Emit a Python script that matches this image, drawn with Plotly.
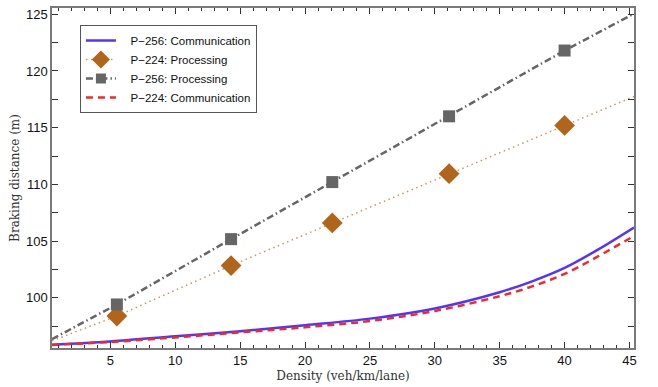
import plotly.graph_objects as go

# Data
density_curve = [0.5, 5, 10, 15, 20, 25, 30, 35, 37.5, 40, 42.5, 45.35]
p256_comm = [95.86, 96.15, 96.6, 97.05, 97.58, 98.16, 99.06, 100.49, 101.45, 102.63, 104.2, 106.2]
p224_comm = [95.84, 96.1, 96.5, 96.95, 97.4, 97.95, 98.83, 100.14, 101.0, 102.1, 103.6, 105.45]

proc_x = [0.5, 5.5, 14.3, 22.1, 31.1, 40.0, 45.35]
p256_proc_line = [96.35, 99.41, 105.17, 110.2, 116.0, 121.8, 125.05]
p224_proc_line = [96.2, 98.39, 102.84, 106.6, 110.94, 115.2, 117.75]

marker_x = [5.5, 14.3, 22.1, 31.1, 40.0]
p256_proc_marks = [99.41, 105.17, 110.2, 116.0, 121.8]
p224_proc_marks = [98.39, 102.84, 106.6, 110.94, 115.2]

x_ticks = [5, 10, 15, 20, 25, 30, 35, 40, 45]
y_ticks = [100, 105, 110, 115, 120, 125]

legend_names = ["P\u2212256: Communication", "P\u2212224: Processing",
                "P\u2212256: Processing", "P\u2212224: Communication"]

BLUE = "#5533ff"
RED = "#ee2a2a"
BROWN = "#b0651a"
BROWN_LINE = "#c49a6c"
GRAY = "#666666"

DASHDOT = "7px,3px,1.5px,3px"
DASH = "7px,5px"
DOT = "1.5px,3.5px"

PAD = "\u00a0" * 3

fig = go.Figure()

# drawn lines (no legend)
fig.add_trace(go.Scatter(x=proc_x, y=p224_proc_line, mode="lines", line=dict(color=BROWN_LINE, width=1.5, dash=DOT),
                         showlegend=False, hoverinfo="skip"))
fig.add_trace(go.Scatter(x=proc_x, y=p256_proc_line, mode="lines", line=dict(color=GRAY, width=2.5, dash=DASHDOT),
                         showlegend=False, hoverinfo="skip"))
fig.add_trace(go.Scatter(x=density_curve, y=p256_comm, mode="lines", line=dict(color=BLUE, width=2.5, shape="spline"),
                         showlegend=False))
fig.add_trace(go.Scatter(x=density_curve, y=p224_comm, mode="lines", line=dict(color=RED, width=2.5, dash=DASH, shape="spline"),
                         showlegend=False))
fig.add_trace(go.Scatter(x=marker_x, y=p224_proc_marks, mode="markers",
                         marker=dict(symbol="diamond", size=16, color=BROWN), showlegend=False))
fig.add_trace(go.Scatter(x=marker_x, y=p256_proc_marks, mode="markers",
                         marker=dict(symbol="square", size=12, color=GRAY), showlegend=False))

# legend entries
fig.add_trace(go.Scatter(x=[None], y=[None], mode="lines", name=PAD + legend_names[0],
                         line=dict(color=BLUE, width=2.5)))
fig.add_trace(go.Scatter(x=[None], y=[None], mode="lines+markers", name=PAD + legend_names[1],
                         line=dict(color=BROWN_LINE, width=1.5, dash=DOT),
                         marker=dict(symbol="diamond", size=14, color=BROWN)))
fig.add_trace(go.Scatter(x=[None], y=[None], mode="lines+markers", name=PAD + legend_names[2],
                         line=dict(color=GRAY, width=2.5, dash=DASHDOT),
                         marker=dict(symbol="square", size=10, color=GRAY)))
fig.add_trace(go.Scatter(x=[None], y=[None], mode="lines", name=PAD + legend_names[3],
                         line=dict(color=RED, width=2.5, dash=DASH)))

axis_common = dict(
    showgrid=False, zeroline=False, showline=True, linecolor="#7a7a7a", linewidth=1.5,
    mirror="allticks", ticks="inside", ticklen=6, tickcolor="#333333", tickwidth=1,
    tickfont=dict(family="Liberation Sans, Arial", size=13, color="#111111"),
)

title_font = dict(family="DejaVu Serif", size=12, color="#333333")

fig.update_layout(
    width=658, height=387,
    margin=dict(l=52, r=24, t=6, b=38),
    paper_bgcolor="white", plot_bgcolor="white",
    xaxis=dict(range=[0.5, 45.35], tickvals=x_ticks,
               minor=dict(dtick=1, tick0=0, ticks="inside", ticklen=3, tickcolor="#333333"),
               title=dict(text="Density (veh/km/lane)", font=title_font, standoff=4),
               **axis_common),
    yaxis=dict(range=[95.57, 125.55], tickvals=y_ticks,
               minor=dict(dtick=5, tick0=97.5, ticks="inside", ticklen=6, tickcolor="#333333"),
               title=dict(text="Braking distance (m)", font=title_font, standoff=4),
               **axis_common),
    legend=dict(x=0.048, y=0.95, xanchor="left", yanchor="top",
                bgcolor="white", bordercolor="#555555", borderwidth=1,
                font=dict(family="Liberation Sans, Arial", size=11.5, color="#111111"),
                tracegroupgap=0, itemwidth=30),
    showlegend=True,
)

fig.write_html("out.html")
